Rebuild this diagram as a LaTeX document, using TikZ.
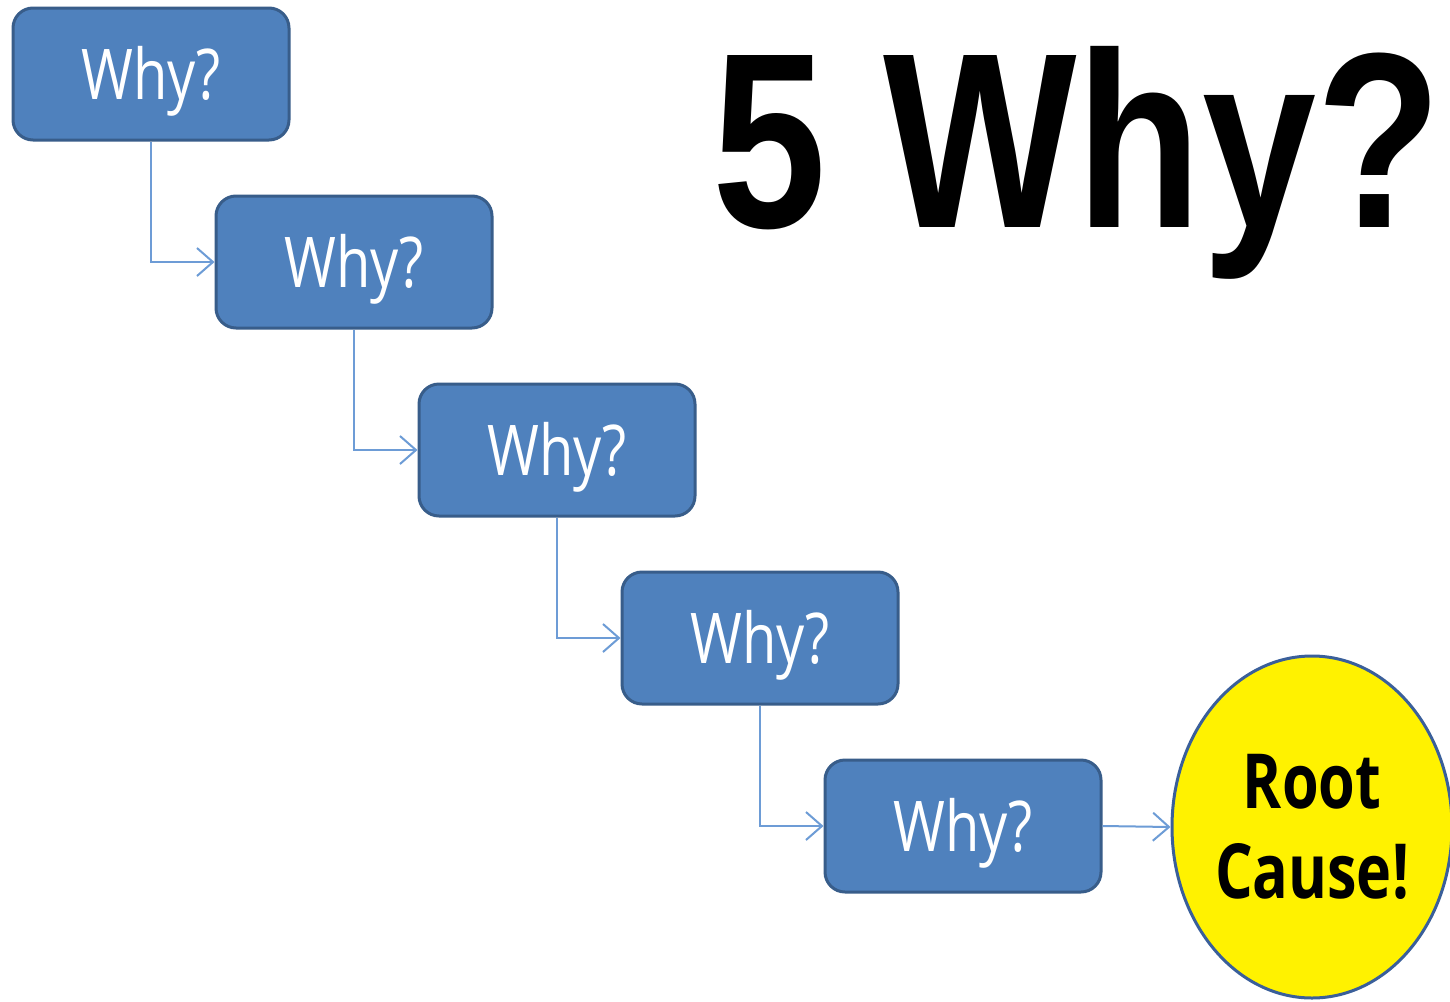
\documentclass[tikz,border=0pt]{standalone}
\usepackage{fontspec}
\setmainfont{Open Sans}
\newfontfamily\titlefont{Liberation Sans}
\usetikzlibrary{arrows.meta,shapes.geometric}
\definecolor{boxfill}{HTML}{4F81BD}
\definecolor{boxline}{HTML}{385D8A}
\definecolor{connc}{HTML}{6D9CD6}
\definecolor{rootline}{HTML}{3A5F9A}
\begin{document}
\begin{tikzpicture}[x=0.5pt,y=-0.5pt,
  whybox/.style={rectangle, rounded corners=10pt, fill=boxfill, draw=boxline, line width=1.5pt,
    minimum width=138pt, minimum height=66pt, inner sep=0pt, text=white,
    text height=25pt, text depth=0pt,
    font=\fontsize{35}{40}\selectfont},
  conn/.style={draw=connc, line width=1pt, -{Straight Barb[length=8pt,width=14pt,line width=1pt]}},
  rootnode/.style={ellipse, fill=yellow, draw=rootline, line width=1.5pt,
    minimum width=140pt, minimum height=171pt, inner sep=0pt, align=center,
    font=\bfseries\fontsize{38}{45}\selectfont}
]
\useasboundingbox (0,0) rectangle (1450,1001);
\clip (0,0) rectangle (1450,1001);
\fill[white] (0,0) rectangle (1450,1001);

\node[anchor=base, inner sep=0pt] (title) at (1077,227)
  {\titlefont\bfseries\fontsize{125}{130}\selectfont\scalebox{0.82}[1]{5 Why?}};

\node[whybox] (b1) at (151,74)  {\scalebox{0.8}[1]{Why?}};
\node[whybox] (b2) at (354,262) {\scalebox{0.8}[1]{Why?}};
\node[whybox] (b3) at (557,450) {\scalebox{0.8}[1]{Why?}};
\node[whybox] (b4) at (760,638) {\scalebox{0.8}[1]{Why?}};
\node[whybox] (b5) at (963,826) {\scalebox{0.8}[1]{Why?}};

\node[rootnode] (root) at (1312,827) {\scalebox{0.78}[1]{Root}\\\scalebox{0.78}[1]{Cause!}};

\draw[conn] (b1.south) |- (b2.west);
\draw[conn] (b2.south) |- (b3.west);
\draw[conn] (b3.south) |- (b4.west);
\draw[conn] (b4.south) |- (b5.west);
\draw[conn] (b5.east) -- (root.west);
\end{tikzpicture}
\end{document}
